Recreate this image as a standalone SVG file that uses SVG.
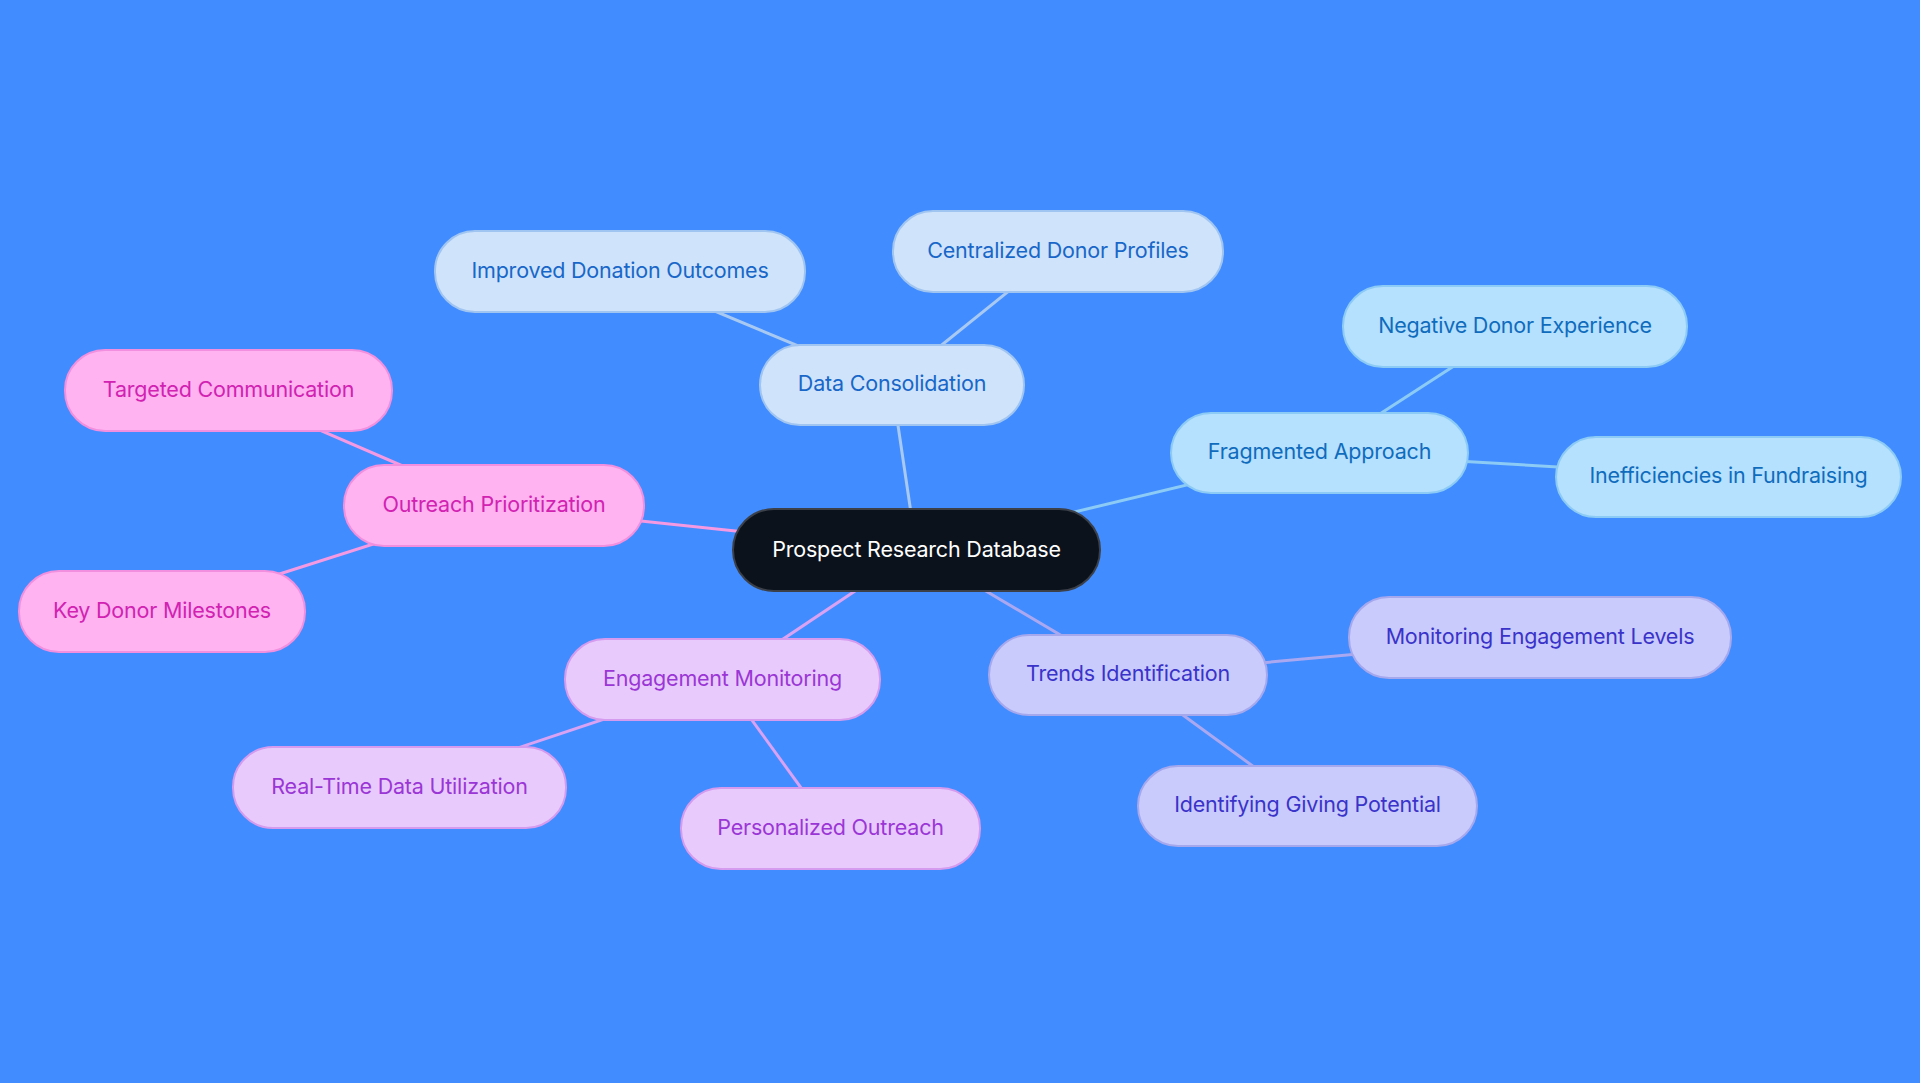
<svg xmlns="http://www.w3.org/2000/svg" width="1920" height="1083" viewBox="0 0 1920 1083">
<style>
text{font-family:Inter,"Noto Sans","Liberation Sans",sans-serif;font-size:21.5px;letter-spacing:-0.2px;text-anchor:middle;dominant-baseline:central}
.e{fill:none;stroke-width:3}
.c0 rect{fill:#0c121c;stroke:#3b4049;stroke-width:2}
.c0 text{fill:#ffffff}
.b1 rect{fill:#cfe3fb;stroke:#a1c5f1;stroke-width:2}
.b1 text{fill:#1867c8}
.b2 rect{fill:#b5e0fe;stroke:#8ccbf5;stroke-width:2}
.b2 text{fill:#0f6cbd}
.b3 rect{fill:#c9cbfd;stroke:#a6a8ee;stroke-width:2}
.b3 text{fill:#3a33c9}
.b4 rect{fill:#e8cbfc;stroke:#d59bee;stroke-width:2}
.b4 text{fill:#9b36d6}
.b5 rect{fill:#ffb3f0;stroke:#f28fde;stroke-width:2}
.b5 text{fill:#d122b2}
</style>
<rect width="1920" height="1083" fill="#418cff"/>
<g id="connectors">
<g stroke="#a8c9f2" class="e">
<line x1="916.5" y1="550" x2="892" y2="385"/>
<line x1="892" y1="385" x2="620" y2="271.5"/>
<line x1="892" y1="385" x2="1058" y2="251.5"/>
</g>
<g stroke="#8ccbf5" class="e">
<line x1="916.5" y1="550" x2="1319.5" y2="453"/>
<line x1="1319.5" y1="453" x2="1515" y2="326.5"/>
<line x1="1319.5" y1="453" x2="1728.5" y2="477"/>
</g>
<g stroke="#aaa8f0" class="e">
<line x1="916.5" y1="550" x2="1128" y2="675"/>
<line x1="1128" y1="675" x2="1540" y2="637.5"/>
<line x1="1128" y1="675" x2="1307.5" y2="806"/>
</g>
<g stroke="#d9a2f2" class="e">
<line x1="916.5" y1="550" x2="722.5" y2="679.5"/>
<line x1="722.5" y1="679.5" x2="399.5" y2="787.5"/>
<line x1="722.5" y1="679.5" x2="830.5" y2="828.5"/>
</g>
<g stroke="#f59ae2" class="e">
<line x1="916.5" y1="550" x2="494" y2="505.5"/>
<line x1="494" y1="505.5" x2="228.5" y2="390.5"/>
<line x1="494" y1="505.5" x2="162" y2="611.5"/>
</g>
</g>
<g id="n-central" class="c0"><rect x="733" y="509" width="367" height="82" rx="41"/><text x="916.5" y="548.5">Prospect Research Database</text></g>
<g id="n-dc" class="b1"><rect x="760" y="345" width="264" height="80" rx="40"/><text x="892" y="383">Data Consolidation</text></g>
<g id="n-ido" class="b1"><rect x="435" y="231" width="370" height="81" rx="40"/><text x="620" y="270">Improved Donation Outcomes</text></g>
<g id="n-cdp" class="b1"><rect x="893" y="211" width="330" height="81" rx="40"/><text x="1058" y="249.5">Centralized Donor Profiles</text></g>
<g id="n-fa" class="b2"><rect x="1171" y="413" width="297" height="80" rx="40"/><text x="1319.5" y="451">Fragmented Approach</text></g>
<g id="n-nde" class="b2"><rect x="1343" y="286" width="344" height="81" rx="40"/><text x="1515" y="325">Negative Donor Experience</text></g>
<g id="n-iif" class="b2"><rect x="1556" y="437" width="345" height="80" rx="40"/><text x="1728.5" y="475">Inefficiencies in Fundraising</text></g>
<g id="n-ti" class="b3"><rect x="989" y="635" width="278" height="80" rx="40"/><text x="1128" y="673">Trends Identification</text></g>
<g id="n-mel" class="b3"><rect x="1349" y="597" width="382" height="81" rx="40"/><text x="1540" y="636">Monitoring Engagement Levels</text></g>
<g id="n-igp" class="b3"><rect x="1138" y="766" width="339" height="80" rx="40"/><text x="1307.5" y="804">Identifying Giving Potential</text></g>
<g id="n-em" class="b4"><rect x="565" y="639" width="315" height="81" rx="40"/><text x="722.5" y="678">Engagement Monitoring</text></g>
<g id="n-rtdu" class="b4"><rect x="233" y="747" width="333" height="81" rx="40"/><text x="399.5" y="786">Real-Time Data Utilization</text></g>
<g id="n-po" class="b4"><rect x="681" y="788" width="299" height="81" rx="40"/><text x="830.5" y="827">Personalized Outreach</text></g>
<g id="n-op" class="b5"><rect x="344" y="465" width="300" height="81" rx="40"/><text x="494" y="504">Outreach Prioritization</text></g>
<g id="n-tc" class="b5"><rect x="65" y="350" width="327" height="81" rx="40"/><text x="228.5" y="389">Targeted Communication</text></g>
<g id="n-kdm" class="b5"><rect x="19" y="571" width="286" height="81" rx="40"/><text x="162" y="610">Key Donor Milestones</text></g>
</svg>
